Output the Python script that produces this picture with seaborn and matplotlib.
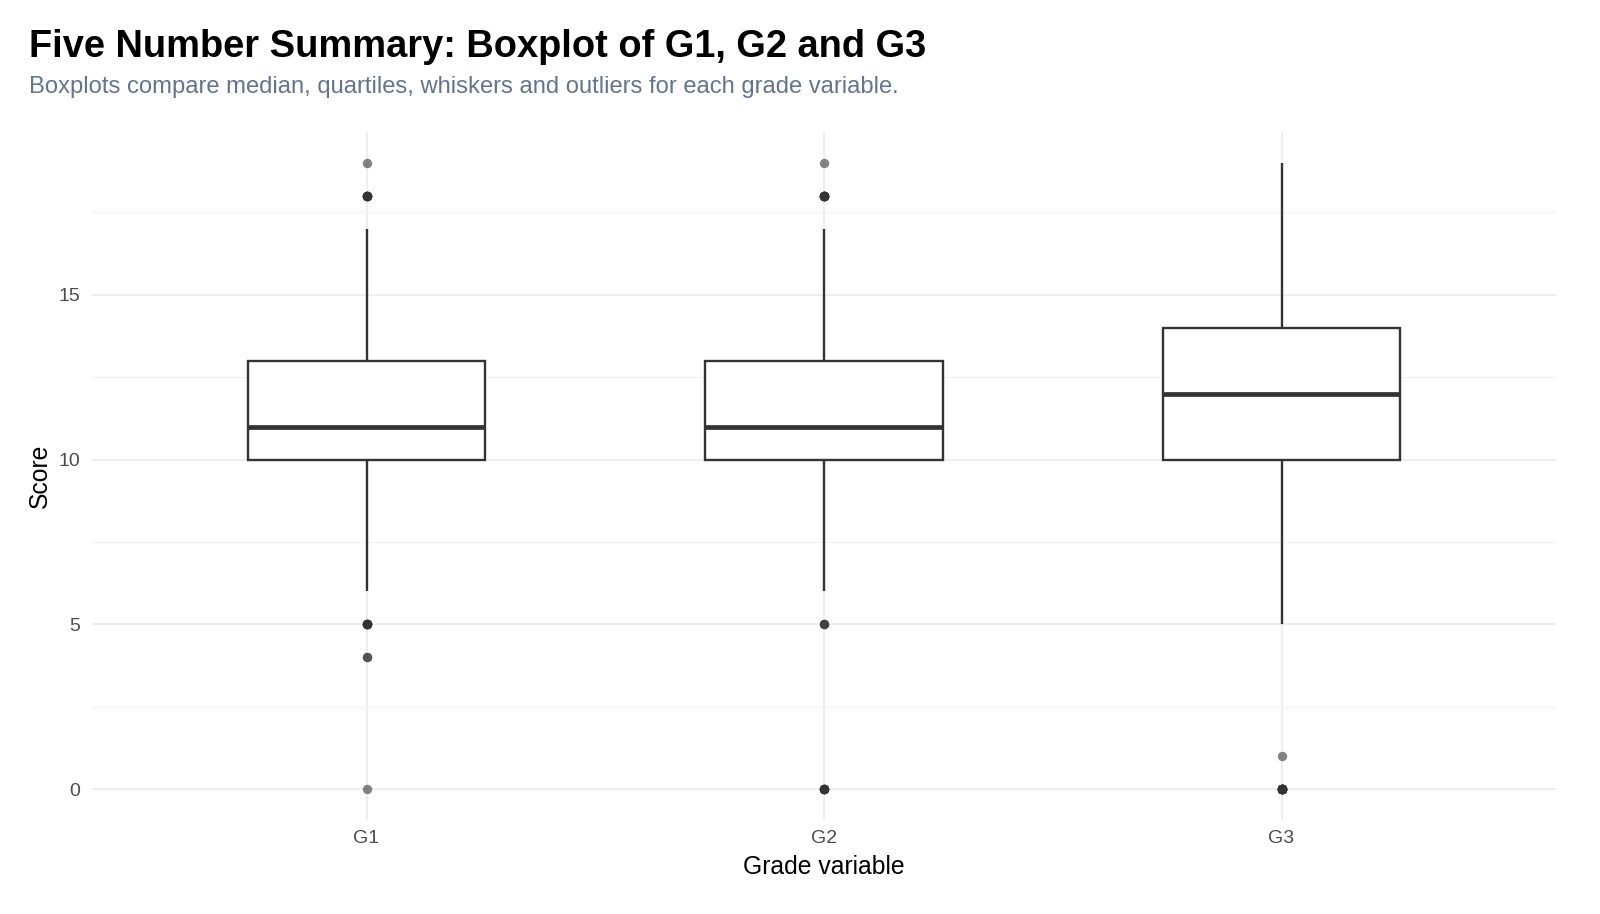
import numpy as np
import pandas as pd
import matplotlib
matplotlib.use("Agg")
import matplotlib.pyplot as plt
import seaborn as sns

# grade variables and how many students got each score
grades = ["G1", "G2", "G3"]

g1_scores = [0, 4, 5, 6, 7, 8, 9, 10, 11, 12, 13, 14, 15, 16, 17, 18, 19]
g1_counts = [1, 2, 7, 12, 25, 35, 50, 100, 90, 80, 70, 50, 40, 25, 15, 8, 1]

g2_scores = [0, 5, 6, 7, 8, 9, 10, 11, 12, 13, 14, 15, 16, 17, 18, 19]
g2_counts = [7, 3, 10, 20, 40, 55, 95, 90, 80, 70, 50, 40, 25, 15, 10, 1]

g3_scores = [0, 1, 5, 6, 7, 8, 9, 10, 11, 12, 13, 14, 15, 16, 17, 18, 19]
g3_counts = [15, 1, 1, 3, 10, 35, 35, 95, 100, 70, 65, 60, 50, 35, 25, 15, 2]

title = "Five Number Summary: Boxplot of G1, G2 and G3"
subtitle = "Boxplots compare median, quartiles, whiskers and outliers for each grade variable."

# long format table for seaborn
parts = []
for g, s, c in zip(grades, [g1_scores, g2_scores, g3_scores], [g1_counts, g2_counts, g3_counts]):
    parts.append(pd.DataFrame({"grade": g, "score": np.repeat(s, c)}))
df = pd.concat(parts, ignore_index=True)

sns.set_theme(style="white")
plt.rcParams["font.family"] = ["Liberation Sans", "DejaVu Sans"]

fig = plt.figure(figsize=(16, 9.14), dpi=100)
ax = fig.add_axes([0.0575, 0.1024, 0.915, 0.7536])

line_col = "#333333"
sns.boxplot(
    data=df, x="grade", y="score", order=grades,
    width=0.52, color="white", linecolor=line_col, linewidth=1.7,
    showcaps=False,
    flierprops=dict(marker="o", markerfacecolor=line_col, markeredgecolor="none",
                    markersize=6.8, alpha=0.6),
    medianprops=dict(linewidth=3.4, color=line_col),
    ax=ax,
)

ax.set_xlim(-0.6, 2.6)
ax.set_ylim(-0.95, 19.95)
ax.set_yticks([0, 5, 10, 15])
ax.set_yticks([2.5, 7.5, 12.5, 17.5], minor=True)

# ggplot-ish minimal theme
ax.grid(which="major", color="#ebebeb", linewidth=1.2)
ax.grid(which="minor", axis="y", color="#f3f3f3", linewidth=0.9)
ax.set_axisbelow(True)
for sp in ax.spines.values():
    sp.set_visible(False)
ax.tick_params(axis="both", which="both", length=0, colors="#4d4d4d", labelsize=14)
ax.tick_params(axis="y", pad=8.5)
ax.tick_params(axis="x", pad=7)

ax.set_xlabel("Grade variable", fontsize=17.8, color="black", labelpad=5.5)
ax.set_ylabel("Score", fontsize=17.8, color="black", labelpad=5)

fig.text(0.0179, 0.949, title, fontsize=27.4, fontweight="bold", color="black", va="center", ha="left")
fig.text(0.0179, 0.905, subtitle, fontsize=17.1, color="#64748b", va="center", ha="left")

fig.savefig("out.png", dpi=100, facecolor="white")
